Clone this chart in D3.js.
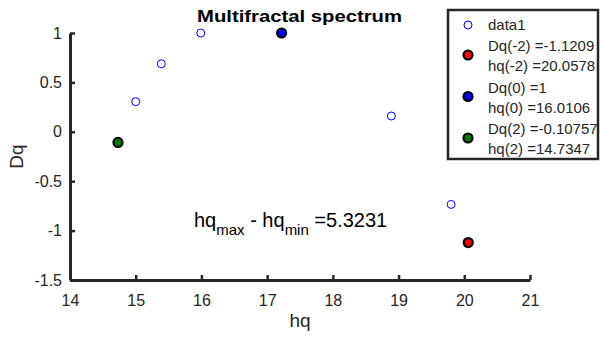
<!DOCTYPE html>
<html>
<head>
<meta charset="utf-8">
<script src="https://cdn.jsdelivr.net/npm/d3@7"></script>
<style>
  body { margin: 0; background: #fff; }
</style>
</head>
<body>
<script>
// data1: open blue circles
var hqValues = [14.73, 15.0, 15.39, 15.99, 17.22, 18.89, 19.8, 20.06];
var dqValues = [-0.108, 0.305, 0.688, 1.0, 1.0, 0.16, -0.735, -1.12];

// highlighted points (q = -2, 0, 2)
var specialHq = [20.06, 17.22, 14.73];
var specialDq = [-1.1209, 1.0, -0.10757];
var specialColors = ["#ff0000", "#0000ff", "#007f00"];
var legendLines = [
  ["Dq(-2) =-1.1209", "hq(-2) =20.0578"],
  ["Dq(0) =1", "hq(0) =16.0106"],
  ["Dq(2) =-0.10757", "hq(2) =14.7347"]
];

var xTicks = [14, 15, 16, 17, 18, 19, 20, 21];
var yTicks = [-1.5, -1, -0.5, 0, 0.5, 1];

var width = 600, height = 344;
var margin = {top: 33, right: 70, bottom: 64, left: 70};
var axisColor = "#262626";
var fontFam = "'Liberation Sans', Arial, Helvetica, sans-serif";

var svg = d3.select("body").append("svg")
    .attr("width", width)
    .attr("height", height)
    .attr("font-family", fontFam);

var x = d3.scaleLinear().domain([14, 21]).range([margin.left, width - margin.right]);
var y = d3.scaleLinear().domain([-1.5, 1]).range([height - margin.bottom, margin.top]);

var fmt = function(d) { return String(d); };

// axes, MATLAB style: thick left/bottom lines, inward ticks
var xAxis = svg.append("g")
    .attr("transform", "translate(0," + y(-1.5) + ")")
    .call(d3.axisBottom(x).tickValues(xTicks).tickFormat(fmt)
      .tickSizeInner(-5).tickSizeOuter(0).tickPadding(15));
var yAxis = svg.append("g")
    .attr("transform", "translate(" + x(14) + ",0)")
    .call(d3.axisLeft(y).tickValues(yTicks).tickFormat(fmt)
      .tickSizeInner(-5).tickSizeOuter(0).tickPadding(8));

[xAxis, yAxis].forEach(function(a) {
  a.attr("font-family", fontFam).attr("font-size", 16);
  a.select(".domain").attr("stroke", axisColor).attr("stroke-width", 3);
  a.selectAll(".tick line").attr("stroke", axisColor).attr("stroke-width", 2.5);
  a.selectAll(".tick text").attr("fill", axisColor);
});

// axis labels
svg.append("text")
  .attr("x", (x(14) + x(21)) / 2)
  .attr("y", 327)
  .attr("text-anchor", "middle")
  .attr("fill", axisColor)
  .attr("font-size", 19)
  .text("hq");

svg.append("text")
  .attr("transform", "translate(23," + y(-0.25) + ") rotate(-90)")
  .attr("text-anchor", "middle")
  .attr("fill", axisColor)
  .attr("font-size", 19)
  .text("Dq");

// title
svg.append("text")
  .attr("x", 197)
  .attr("y", 22)
  .attr("textLength", 205)
  .attr("lengthAdjust", "spacingAndGlyphs")
  .attr("fill", "#000")
  .attr("font-size", 17)
  .attr("font-weight", "bold")
  .text("Multifractal spectrum");

// data1 points
var pts = hqValues.map(function(d, i) { return {hq: d, dq: dqValues[i]}; });
svg.selectAll("circle.data1")
  .data(pts)
  .enter().append("circle")
  .attr("class", "data1")
  .attr("cx", function(d) { return x(d.hq); })
  .attr("cy", function(d) { return y(d.dq); })
  .attr("r", 4)
  .attr("fill", "none")
  .attr("stroke", "#0000ff")
  .attr("stroke-width", 1);

// special points
var sp = specialHq.map(function(d, i) { return {hq: d, dq: specialDq[i], c: specialColors[i]}; });
svg.selectAll("circle.special")
  .data(sp)
  .enter().append("circle")
  .attr("class", "special")
  .attr("cx", function(d) { return x(d.hq); })
  .attr("cy", function(d) { return y(d.dq); })
  .attr("r", 4.5)
  .attr("fill", function(d) { return d.c; })
  .attr("stroke", "#000")
  .attr("stroke-width", 2.2);

// annotation
var ann = svg.append("text")
  .attr("x", 194)
  .attr("y", 227)
  .attr("fill", "#000")
  .attr("font-size", 20);
ann.append("tspan").text("hq");
ann.append("tspan").attr("dy", 8).attr("font-size", 15).text("max");
ann.append("tspan").attr("dy", -8).text(" - hq");
ann.append("tspan").attr("dy", 8).attr("font-size", 15).text("min");
ann.append("tspan").attr("dy", -8).text(" =5.3231");

// legend
var lg = svg.append("g");
lg.append("rect")
  .attr("x", 448).attr("y", 10)
  .attr("width", 150).attr("height", 149)
  .attr("fill", "#fff")
  .attr("stroke", "#262626")
  .attr("stroke-width", 2.5);

var mx = 468, tx = 488;
lg.append("circle")
  .attr("cx", mx).attr("cy", 25).attr("r", 4)
  .attr("fill", "none").attr("stroke", "#0000ff");
lg.append("text").attr("x", tx).attr("y", 30).attr("fill", axisColor)
  .attr("font-size", 15).text("data1");

legendLines.forEach(function(lines, i) {
  var cy = 55 + i * 41.5;
  lg.append("circle")
    .attr("cx", mx).attr("cy", cy).attr("r", 4.5)
    .attr("fill", specialColors[i]).attr("stroke", "#000").attr("stroke-width", 2.2);
  lg.append("text").attr("x", tx).attr("y", cy - 4).attr("fill", axisColor)
    .attr("font-size", 15).text(lines[0]);
  lg.append("text").attr("x", tx).attr("y", cy + 16).attr("fill", axisColor)
    .attr("font-size", 15).text(lines[1]);
});
</script>
</body>
</html>
